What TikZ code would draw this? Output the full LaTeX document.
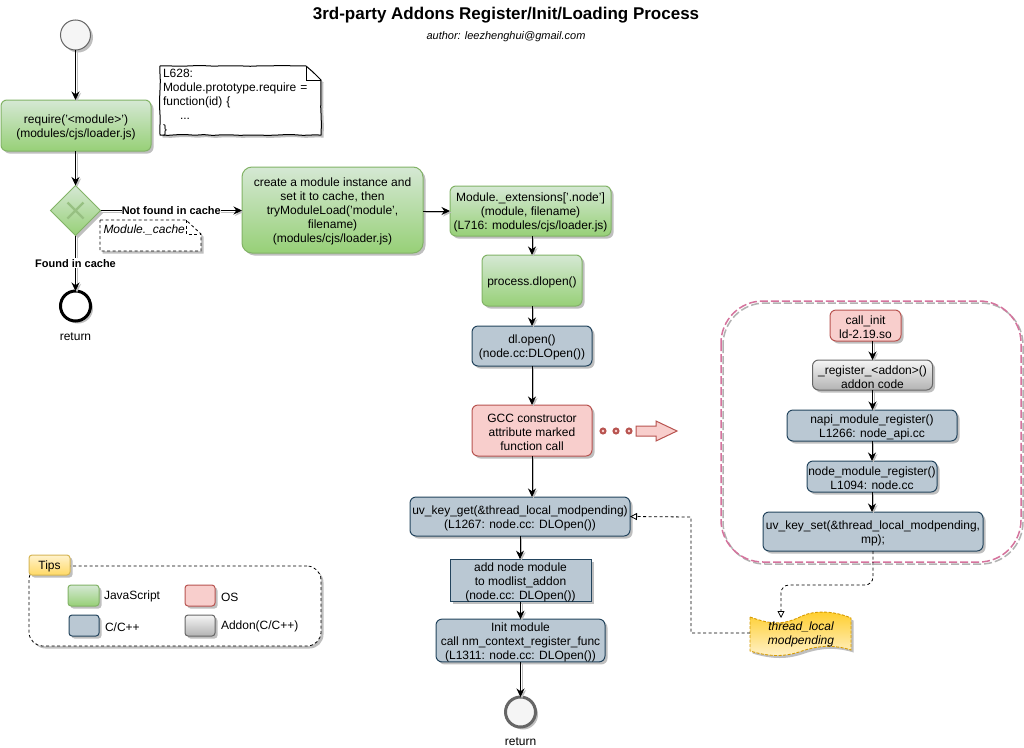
\documentclass[tikz,border=0pt]{standalone}
\usepackage{fontspec}
\setmainfont{Liberation Sans}
\usetikzlibrary{arrows.meta,calc,shadows,backgrounds,decorations.pathmorphing,shapes.geometric}
\definecolor{gs}{HTML}{82B366}\definecolor{gt}{HTML}{D5E8D4}\definecolor{gb}{HTML}{97D077}
\definecolor{rs}{HTML}{B85450}\definecolor{rf}{HTML}{F8CECC}
\definecolor{bs}{HTML}{23445D}\definecolor{bf}{HTML}{BAC8D3}
\definecolor{ys}{HTML}{D6B656}\definecolor{yt}{HTML}{FFF2CC}\definecolor{yb}{HTML}{FFD966}
\definecolor{ts}{HTML}{D79B00}\definecolor{tt}{HTML}{FFCD28}
\definecolor{ws}{HTML}{666666}\definecolor{wf}{HTML}{F5F5F5}\definecolor{wb}{HTML}{B3B3B3}
\definecolor{pk}{HTML}{D5739D}
\newcommand\tp{\rule{0pt}{12.3pt}}
\pgfmathsetseed{7}
\tikzset{
 x=1pt,y=-1pt,
 base/.style={font=\fontsize{12}{14}\selectfont,align=center,inner sep=0pt,outer sep=0pt},
 shad/.style={drop shadow={shadow xshift=2.5pt,shadow yshift=-2.5pt,fill=black,opacity=.25}},
 wob/.style={decorate,decoration={random steps,segment length=9pt,amplitude=.4pt}},
 box/.style={base,draw,line width=1pt,rounded corners=#1,shad},
 box/.default=6pt,
 jsbox/.style={box=#1,draw=gs,top color=gt,bottom color=gb},
 jsbox/.default=6pt,
 osbox/.style={box,draw=rs,fill=rf},
 ccbox/.style={box,draw=bs,fill=bf},
 adbox/.style={box,draw=ws,top color=wf,bottom color=wb},
 lab/.style={base,fill=white,font=\fontsize{11}{13}\selectfont\bfseries,inner xsep=0pt,inner ysep=1pt},
 txt/.style={base},
 flow/.style={draw=black,line width=1pt,-{Stealth[length=8.5pt,width=8pt]},
   preaction={draw=black!25,line width=1pt,transform canvas={xshift=1.5pt,yshift=-1.5pt}}},
 dep/.style={draw=black,line width=.8pt,dash pattern=on 3pt off 2.5pt,-{Triangle[open,fill=white,length=7pt,width=7pt]}},
}
\begin{document}
\begin{tikzpicture}
\useasboundingbox (0,0) rectangle (1024,747);
\begin{scope}[on background layer]
\fill[white] (0,0) rectangle (1024,747);
\end{scope}
% title
\node[base,font=\fontsize{17}{20}\selectfont\bfseries] (title) at (506,15) {3rd-party Addons Register/Init/Loading Process};
\node[base,font=\fontsize{11}{13}\selectfont\itshape] (author) at (506,37) {author: leezhenghui@gmail.com};
% group
\node[base,minimum width=300pt,minimum height=261pt,rounded corners=42pt] (group) at (871,431.5) {};
\draw[black!30,line width=1.5pt,dash pattern=on 8pt off 3pt,rounded corners=42pt] (723,303) rectangle (1023,564);
\draw[pk,line width=1.5pt,dash pattern=on 8pt off 3pt,rounded corners=42pt] (group.north west) rectangle (group.south east);
% left column
\node[base,circle,draw=ws,fill=wf,line width=1pt,minimum size=30pt,shad] (start) at (75.5,35) {};
\node[jsbox,minimum width=150pt,minimum height=51pt] (req) at (76,125.5) {\tp require('<module>')\\(modules/cjs/loader.js)};
\node[base,align=left,text width=156pt,minimum height=69pt,anchor=center] (note1) at (241,100.5)
 {\tp L628:\\Module.prototype.require =\\function(id) \{\\\hspace*{17pt}...\\\}};
\begin{scope}[on background layer]
\draw[black,line width=1pt,fill=white,shad,wob] (160,66) -- (306,66) -- (321,80) -- (321,135) -- (160,135) -- cycle;
\draw[black,line width=.8pt] (306,66) -- (306,80) -- (321,80);
\end{scope}
\node[base,diamond,aspect=1,minimum size=50pt,draw=gs,line width=1pt,top color=gt,bottom color=gb,shad] (dec) at (75.5,210.5) {};
\draw[gs!75!gt,line width=2.2pt] (67.5,202.5) -- (83.5,218.5) (83.5,202.5) -- (67.5,218.5);
\node[base,align=left,text width=99pt] (note2) at (151,228)
 {\tp\hspace*{2pt}\itshape Module.\_cache};
\begin{scope}[on background layer]
\draw[black,line width=.8pt,dash pattern=on 3pt off 2.5pt,fill=white,shad] (100,220) -- (186,220) -- (201,234) -- (201,251) -- (100,251) -- cycle;
\draw[black,line width=.7pt,dash pattern=on 3pt off 2.5pt] (186,220) -- (186,234) -- (201,234);
\end{scope}
\node[base,circle,draw=black,fill=white,line width=3pt,minimum size=30pt,shad] (endl) at (75.5,306) {};
\node[txt] (retl) at (75.5,334) {\tp return};
% middle
\node[jsbox=10pt,minimum width=181pt,minimum height=86pt] (create) at (332.5,210) {\tp create a module instance and\\set it to cache, then\\tryModuleLoad('module',\\filename)\\(modules/cjs/loader.js)};
\node[jsbox,minimum width=161pt,minimum height=50pt] (ext) at (530.5,211) {\tp Module.\_extensions['.node']\\(module, filename)\\(L716: modules/cjs/loader.js)};
\node[jsbox,minimum width=100pt,minimum height=51pt] (dlp) at (532,280.5) {\tp process.dlopen()};
\node[ccbox,minimum width=120pt,minimum height=40pt] (dlo) at (532,346) {\tp dl.open()\\(node.cc:DLOpen())};
\node[osbox,minimum width=120pt,minimum height=51pt] (gcc) at (532,430.5) {\tp GCC constructor\\attribute marked\\function call};
\node[ccbox,minimum width=220pt,minimum height=39pt] (get) at (520,516.5) {\tp uv\_key\_get(\&thread\_local\_modpending)\\(L1267: node.cc: DLOpen())};
\node[base,draw=bs,fill=bf,line width=1pt,shad,minimum width=141pt,minimum height=41pt] (add) at (520.5,580.5) {\tp add node module\\to modlist\_addon\\(node.cc: DLOpen())};
\node[ccbox,minimum width=169pt,minimum height=41pt] (ini) at (520.5,640.5) {\tp Init module\\call nm\_context\_register\_func\\(L1311: node.cc: DLOpen())};
\node[base,circle,draw=ws,fill=wf,line width=3pt,minimum size=30pt,shad] (endr) at (520.5,712) {};
\node[txt] (retr) at (520.5,739.5) {\tp return};
% dots and block arrow
\foreach \i/\xx in {1/603,2/616,3/629}
  \node[base,circle,draw=rs,fill=rf,line width=2pt,minimum size=5pt] (dot\i) at (\xx,431) {};
\draw[rs,fill=rf,line width=1pt] (636,426) -- (656,426) -- (656,421) -- (677,431) -- (656,441) -- (656,436) -- (636,436) -- cycle;
% right column
\node[osbox,minimum width=71pt,minimum height=31pt] (cinit) at (865.5,325.5) {\tp call\_init\\ld-2.19.so};
\node[adbox,minimum width=120pt,minimum height=30pt] (reg) at (872.5,375) {\tp\_register\_<addon>()\\addon code};
\node[ccbox,minimum width=170pt,minimum height=31pt] (napi) at (872,425.5) {\tp napi\_module\_register()\\L1266: node\_api.cc};
\node[ccbox,minimum width=130pt,minimum height=31pt] (nmr) at (872,476.5) {\tp node\_module\_register()\\L1094: node.cc};
\node[ccbox,minimum width=220pt,minimum height=39pt] (set) at (873,531.5) {\tp uv\_key\_set(\&thread\_local\_modpending,\\mp);};
% thread local
\node[base,font=\fontsize{12}{14}\selectfont\itshape,minimum width=100pt,minimum height=44pt] (tls) at (801,633) {\tp thread\_local\\modpending};
\begin{scope}[on background layer]
\draw[ts,line width=.9pt,dash pattern=on 3pt off 1.5pt,top color=tt,bottom color=yt,shad]
 (750,617) .. controls (775,626) and (785,624) .. (802,616) .. controls (815,610) and (835,611) .. (851,618)
 -- (851,650) .. controls (835,645) and (820,645) .. (802,651) .. controls (785,657) and (770,657) .. (750,651) -- cycle;
\end{scope}
% tips
\node[base,minimum width=292pt,minimum height=80pt,draw=black,line width=.8pt,dash pattern=on 3pt off 2.5pt,rounded corners=14pt,fill=white,shad] (tips) at (175,606) {};
\node[base,draw=ys,top color=yt,bottom color=yb,line width=1pt,rounded corners=3pt,minimum width=41pt,minimum height=20pt,shad] (tag) at (49.5,565) {\tp Tips};
\node[jsbox=3pt,minimum width=31pt,minimum height=21pt] (l1) at (83.5,595.5) {};
\node[box=3pt,draw=rs,fill=rf,minimum width=30pt,minimum height=21pt] (l2) at (200,595.5) {};
\node[box=3pt,draw=bs,fill=bf,minimum width=30pt,minimum height=21pt] (l3) at (84,625.5) {};
\node[box=3pt,draw=ws,top color=wf,bottom color=wb,minimum width=30pt,minimum height=21pt] (l4) at (200,625.5) {};
\node[txt,anchor=west] (t1) at (104,595) {\tp JavaScript};
\node[txt,anchor=west] (t2) at (221,595) {\tp OS};
\node[txt,anchor=west] (t3) at (105,625) {\tp C/C++};
\node[txt,anchor=west] (t4) at (221,625) {\tp Addon(C/C++)};
% connectors
\draw[flow] (start.south) -- (req.north -| start.south);
\draw[flow] (req.south -| dec.north) -- (dec.north);
\draw[flow] (dec.east) -- node[lab] (nf) {Not found in cache} (create.west |- dec.east);
\draw[flow] (dec.south) -- node[lab] (fc) {Found in cache} (endl.north);
\draw[flow] (create.east |- ext.west) -- (ext.west);
\draw[flow] (ext.south -| dlp.north) -- (dlp.north);
\draw[flow] (dlp.south) -- (dlo.north);
\draw[flow] (dlo.south) -- (gcc.north);
\draw[flow] (gcc.south) -- (gcc.south |- get.north);
\draw[flow] (get.south) -- (get.south |- add.north);
\draw[flow] (add.south) -- (ini.north);
\draw[flow] (ini.south) -- (endr.north);
\draw[flow] (cinit.south -| reg.north) -- (reg.north);
\draw[flow] (reg.south) -- (reg.south |- napi.north);
\draw[flow] (napi.south) -- (nmr.north);
\draw[flow] (nmr.south) -- (nmr.south |- set.north);
\coordinate (tlsin) at (781,618);
\coordinate (tlsout) at (750,633);
\draw[dep,rounded corners=8pt] (set.south) -- (873,585) -- (781,585) -- (tlsin);
\draw[dep] (tlsout) -- (691,633) -- (691,517) -- (get.east);
\end{tikzpicture}
\end{document}
